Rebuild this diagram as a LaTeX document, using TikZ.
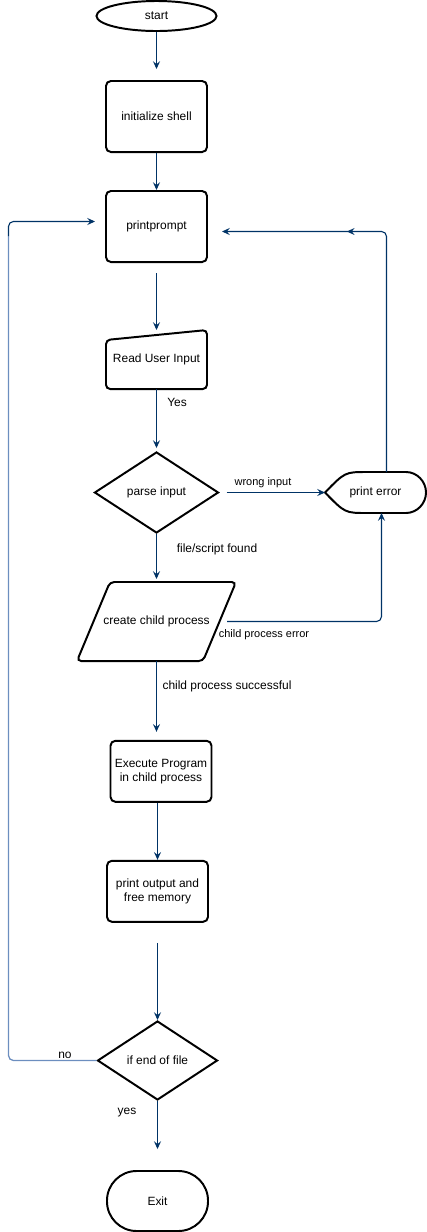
\documentclass[tikz,border=0pt]{standalone}
\usepackage{fontspec}
\setmainfont{Liberation Sans}
\usepackage{tikz}
\usetikzlibrary{arrows.meta, shapes.geometric, calc, decorations.markings}
\definecolor{flowblue}{HTML}{003366}
\definecolor{loopblue}{HTML}{6C8EBF}
\tikzset{>={Stealth[length=5.5pt,width=5pt,inset=2pt]}}

\begin{document}
\begin{tikzpicture}[x=0.025cm, y=-0.025cm, font=\fontsize{8.5}{10}\selectfont,
	shapeline/.style={draw=black, line width=1.4pt},
	box/.style={shapeline, rounded corners=3.5pt, minimum width=2.525cm, align=center, inner sep=0pt},
	plain/.style={minimum width=2.525cm, align=center, inner sep=0pt, outer sep=0pt},
	choice/.style={shapeline, diamond, inner sep=0pt},
	flow/.style={->, draw=flowblue, line width=0.8pt},
	backflow/.style={draw=loopblue, line width=0.9pt},
	lbl/.style={inner sep=0pt},
	small/.style={font=\fontsize{7.8}{9}\selectfont}]

	\useasboundingbox (0,0) rectangle (427,1232);

	% nodes
	\node[shapeline, ellipse, minimum width=3cm, minimum height=0.75cm, inner sep=0pt] (start) at (156.5,16) {start};
	\node[box, minimum height=1.775cm] (init) at (156.5,116.5) {initialize shell};
	\node[box, minimum height=1.775cm] (pp) at (156.5,226.5) {printprompt};
	\node[plain, minimum height=1.475cm] (read) at (156.5,359.5) {Read User Input};
	\node[choice, minimum width=3.1cm, minimum height=2.025cm] (parse) at (156.5,492.5) {parse input};
	\node[plain, minimum height=1.025cm] (perr) at (375.5,492.5) {print error};
	\node[plain, minimum width=3.975cm, minimum height=1.975cm] (child) at (156.5,621.5) {create child process};
	\node[box, minimum height=1.525cm] (exec) at (161,771.3) {Execute Program\\in child process};
	\node[box, minimum height=1.525cm] (pout) at (157.5,891.3) {print output and\\free memory};
	\node[choice, minimum width=3cm, minimum height=1.975cm] (eof) at (157.5,1060.5) {if end of file};
	\node[box, rounded corners=0.74cm, minimum height=1.5cm] (exit) at (157.5,1201) {Exit};

	% shapes that are drawn by hand
	\draw[shapeline, rounded corners=3pt] ($(read.north west)+(0,10)$) -- (read.north east)
		-- (read.south east) -- (read.south west) -- cycle;
	\draw[shapeline, rounded corners=3pt] ($(child.north west)+(33,0)$) -- (child.north east)
		-- ($(child.south east)+(-33,0)$) -- (child.south west) -- cycle;
	\draw[shapeline] (perr.west) .. controls ($(perr.west)+(20,-20.5)$) .. ($(perr.north west)+(42,0)$)
		-- ($(perr.north east)+(-20,0)$) .. controls ($(perr.north east)+(-9,0)$) and ($(perr.east)+(0,-11)$) .. (perr.east)
		.. controls ($(perr.east)+(0,11)$) and ($(perr.south east)+(-9,0)$) .. ($(perr.south east)+(-20,0)$)
		-- ($(perr.south west)+(42,0)$) .. controls ($(perr.west)+(20,20.5)$) .. (perr.west) -- cycle;

	% connectors
	\draw[flow, shorten >=0.275cm] (start.south) -- (start.south |- init.north);
	\draw[flow] (init.south) -- (init.south |- pp.north);
	\draw[flow, shorten <=0.25cm] (pp.south) -- (pp.south |- read.north);
	\draw[flow, shorten >=0.075cm] (read.south) -- (read.south |- parse.north);
	\draw[flow, shorten <=0.175cm] (parse.east) -- (perr.west);
	\draw[flow, shorten >=0.075cm] (parse.south) -- (parse.south |- child.north);
	\draw[flow, rounded corners=3.5pt] ($(child.east)+(-9,0)$) -| ($(perr.south)+(6,0)$);
	\draw[flow, shorten >=0.2cm] (child.south) -- (child.south |- exec.north);
	\draw[flow] (pout.north |- exec.south) -- (pout.north);
	\draw[flow, shorten <=0.5cm] (pout.south) -- (pout.south |- eof.north);
	\draw[flow, shorten >=0.525cm] (eof.south) -- (eof.south |- exit.north);

	% back to the prompt
	\draw[flow, rounded corners=3.5pt, postaction={decorate},
		decoration={markings, mark=at position 0.69 with {\arrow{>}}}]
		($(perr.north)+(11,0)$) |- ($(pp.east)+(14,5)$);
	\coordinate (lc) at (8.5,236);
	\draw[backflow, rounded corners=3.5pt] (eof.west) -| (lc);
	\draw[flow, rounded corners=3.5pt] (lc) |- ($(pp.west)+(-10,-5)$);

	% labels
	\node[lbl] (lyes) at (177,402) {Yes};
	\node[lbl, small] (lwrong) at (263,483) {wrong input};
	\node[lbl] (lfound) at (217,549) {file/script found};
	\node[lbl, small] (lcerr) at (264,635) {child process error};
	\node[lbl] (lsucc) at (227,686) {child process successful};
	\node[lbl] (lno) at (65,1055) {no};
	\node[lbl] (lyes2) at (127,1113) {yes};
\end{tikzpicture}
\end{document}
